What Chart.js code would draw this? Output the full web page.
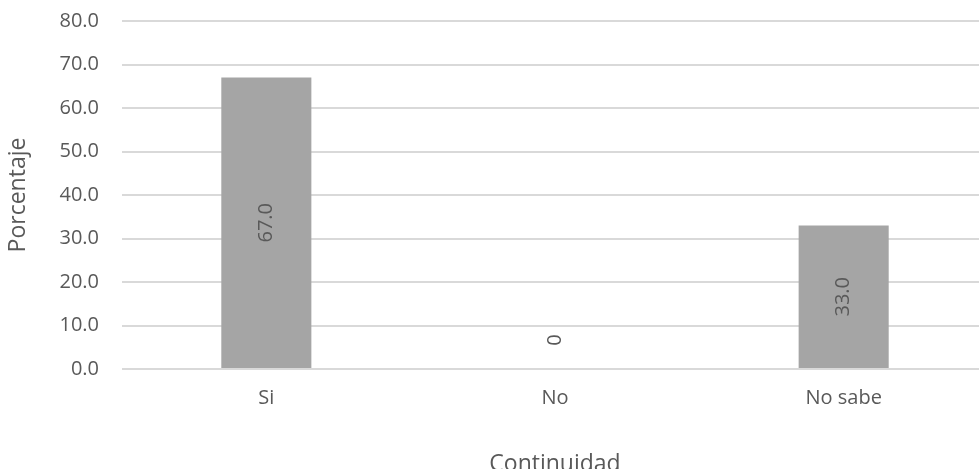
<!DOCTYPE html>
<html><head><meta charset="utf-8">
<script src="https://cdn.jsdelivr.net/npm/chart.js@4"></script>
<style>html,body{margin:0;padding:0;background:#fff;overflow:hidden}#w{width:988px;height:469px}</style>
</head><body><div id="w"><canvas id="c"></canvas></div>
<script>
const categories = ["Si", "No", "No sabe"];
const values = [67.0, 0, 33.0];
const valueLabels = ["67.0", "0", "33.0"];
const yTicks = [0, 10, 20, 30, 40, 50, 60, 70, 80];

const FONT = "'Open Sans', 'Noto Sans', sans-serif";
const TXT = "#595959";

const labelPlugin = {
  id: 'vlabels',
  afterDatasetsDraw(chart) {
    const ctx = chart.ctx;
    const meta = chart.getDatasetMeta(0);
    const ys = chart.scales.y;
    ctx.save();
    ctx.fillStyle = TXT;
    ctx.font = "20px " + FONT;
    ctx.textAlign = 'center';
    ctx.textBaseline = 'middle';
    meta.data.forEach((bar, i) => {
      let cy;
      if (values[i] === 0) cy = ys.getPixelForValue(0) - 29;
      else cy = (bar.y + bar.base) / 2;
      ctx.save();
      ctx.translate(bar.x, cy);
      ctx.rotate(-Math.PI / 2);
      ctx.fillText(valueLabels[i], 0, 0);
      ctx.restore();
    });
    ctx.restore();
  }
};

new Chart(document.getElementById('c'), {
  type: 'bar',
  data: {
    labels: categories,
    datasets: [{ data: values, backgroundColor: '#a5a5a5', barPercentage: 0.312, categoryPercentage: 1 }]
  },
  options: {
    responsive: true, maintainAspectRatio: false, animation: false,
    layout: { padding: { top: 21, right: 0, left: 0, bottom: 0 } },
    plugins: { legend: { display: false }, tooltip: { enabled: false } },
    scales: {
      x: {
        grid: { display: false, drawTicks: false },
        border: { display: false },
        ticks: { color: TXT, font: { family: FONT, size: 20 }, padding: 17 },
        title: { display: true, text: 'Continuidad', color: TXT, font: { family: FONT, size: 23 }, padding: { top: 0, bottom: -9 } },
        afterFit(s) { s.height = 100; s.paddingLeft = 0; s.paddingRight = 0; }
      },
      y: {
        min: 0, max: 80,
        afterBuildTicks(s) { s.ticks = yTicks.map(v => ({ value: v })); },
        grid: { color: '#d9d9d9', lineWidth: 2, drawTicks: false },
        border: { display: false },
        ticks: { color: TXT, font: { family: FONT, size: 20 }, padding: 23, callback: v => Number(v).toFixed(1) },
        title: { display: true, text: 'Porcentaje', color: TXT, font: { family: FONT, size: 23 }, padding: { top: 5, bottom: 4 } },
        afterFit(s) { s.width = 122; s.paddingTop = 0; s.paddingBottom = 0; }
      }
    }
  },
  plugins: [labelPlugin]
});
</script></body></html>
